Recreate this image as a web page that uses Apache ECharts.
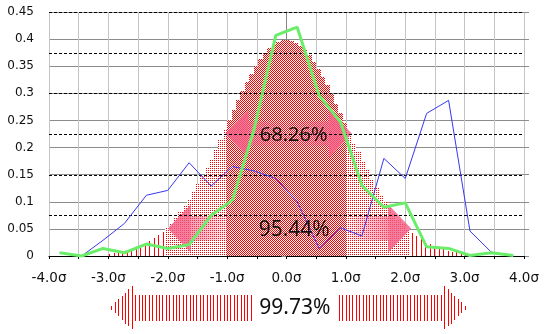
<!DOCTYPE html>
<html><head><meta charset="utf-8">
<script src="https://cdn.jsdelivr.net/npm/echarts@6/dist/echarts.min.js"></script>
<style>html,body{margin:0;padding:0;background:#fff}#c{width:553px;height:334px}#dbg{position:absolute;left:60px;top:20px;font:10px monospace;color:#00f;max-width:400px}</style>
</head><body><div id="c"></div><div id="dbg"></div>
<script>
// ---------- data ----------
const binWidth = 0.075;
const densityX = [-2.9875,-2.9125,-2.8375,-2.7625,-2.6875,-2.6125,-2.5375,-2.4625,-2.3875,-2.3125,
  -2.2375,-2.1625,-2.0875,-2.0125,-1.9375,-1.8625,-1.7875,-1.7125,-1.6375,-1.5625,
  -1.4875,-1.4125,-1.3375,-1.2625,-1.1875,-1.1125,-1.0375,-0.9625,-0.8875,-0.8125,
  -0.7375,-0.6625,-0.5875,-0.5125,-0.4375,-0.3625,-0.2875,-0.2125,-0.1375,-0.0625,
  0.0125,0.0875,0.1625,0.2375,0.3125,0.3875,0.4625,0.5375,0.6125,0.6875,
  0.7625,0.8375,0.9125,0.9875,1.0625,1.1375,1.2125,1.2875,1.3625,1.4375,
  1.5125,1.5875,1.6625,1.7375,1.8125,1.8875,1.9625,2.0375,2.1125,2.1875,
  2.2625,2.3375,2.4125,2.4875,2.5625,2.6375,2.7125,2.7875,2.8625,2.9375,3.0125];
const density = [0.0046,0.0057,0.0071,0.0088,0.0108,0.0131,0.0159,0.0192,0.0231,0.0275,
  0.0326,0.0385,0.0451,0.0527,0.0611,0.0704,0.0807,0.0921,0.1044,0.1177,
  0.1320,0.1471,0.1631,0.1798,0.1971,0.2149,0.2329,0.2510,0.2691,0.2868,
  0.3040,0.3203,0.3357,0.3498,0.3625,0.3736,0.3828,0.3900,0.3952,0.3982,
  0.3989,0.3974,0.3937,0.3878,0.3799,0.3701,0.3585,0.3453,0.3307,0.3150,
  0.2983,0.2809,0.2631,0.2450,0.2269,0.2089,0.1913,0.1742,0.1577,0.1420,
  0.1271,0.1132,0.1002,0.0882,0.0772,0.0672,0.0582,0.0501,0.0428,0.0365,
  0.0309,0.0260,0.0217,0.0181,0.0150,0.0123,0.0101,0.0082,0.0066,0.0053,0.0043];
const sampleX = [-3.82,-3.45,-3.09,-2.73,-2.36,-2.00,-1.64,-1.27,-0.91,-0.55,-0.18,
  0.18,0.55,0.91,1.27,1.64,2.00,2.36,2.73,3.09,3.45,3.82];
const blueVals = [0.006,0,0.029,0.060,0.112,0.121,0.172,0.129,0.165,0.157,0.143,
  0.100,0.014,0.052,0.037,0.180,0.143,0.263,0.287,0.046,0.007,0];
const greenVals = [0.006,0,0.014,0.006,0.022,0.014,0.021,0.075,0.103,0.232,0.407,
  0.422,0.296,0.247,0.130,0.090,0.098,0.017,0.014,0.001,0.006,0.001];
const bandLabels = ['68.26%','95.44%','99.73%'];
const bandFrom = [-1.03,-2.0,-2.95];
const bandTo = [1.10,2.10,3.0];
const bandLevel = [0.2257,0.0505,-0.0955];
const labelX = [0.12,0.13,0.14];
const labelLevel = [0.2235,0.0487,-0.0955];
const dashLevels = [0.075,0.15,0.225,0.3,0.375,0.45];

// ---------- styles ----------
function makePattern(w, h, dots) {
  const c = document.createElement('canvas');
  c.width = w; c.height = h;
  const g = c.getContext('2d');
  g.fillStyle = '#ffffff'; g.fillRect(0, 0, w, h);
  g.fillStyle = '#ff0000';
  dots.forEach(d => g.fillRect(d[0], d[1], 1, 1));
  return { image: c, repeat: 'repeat' };
}
const densePat = makePattern(2, 2, [[0,0],[1,1]]);
const sparsePat = makePattern(2, 2, [[0,0]]);
const PINK = '243,92,132';
const labelFont = [20, 21, 21];
function grad(a0, a1) {
  return {type: 'linear', x: 0, y: 0, x2: 1, y2: 0, colorStops: [
    {offset: 0, color: 'rgba(' + PINK + ',' + a0 + ')'}, {offset: 1, color: 'rgba(' + PINK + ',' + a1 + ')'}]};
}

const chart = echarts.init(document.getElementById('c'), null, {renderer: 'canvas'});
chart.setOption({
  animation: false,
  grid: {left: 49, right: 29, top: 12, bottom: 78},
  xAxis: {
    type: 'value', min: -4, max: 4, interval: 0.5,
    axisLine: {onZero: true, lineStyle: {color: '#000', width: 1}},
    axisTick: {show: true, length: 3, lineStyle: {color: '#000'}},
    axisLabel: {
      margin: 15, color: '#111', fontFamily: 'DejaVu Sans', fontSize: 13.5,
      formatter: v => Math.abs(v - Math.round(v)) < 1e-9 ? v.toFixed(1) + 'σ' : ''
    },
    splitLine: {show: true, lineStyle: {color: '#c4c4c4', width: 1}}
  },
  yAxis: [{
    type: 'value', min: 0, max: 0.45, interval: 0.05,
    axisLine: {show: true, lineStyle: {color: '#868686'}},
    axisTick: {show: true, length: 5, lineStyle: {color: '#868686'}},
    axisLabel: {margin: 15, color: '#111', fontFamily: 'DejaVu Sans', fontSize: 12},
    splitLine: {show: true, lineStyle: {color: '#8c8c8c', width: 1}}
  }, {
    type: 'value', min: 0, max: 0.45, interval: 0.05, position: 'right',
    axisLine: {show: false},
    axisTick: {show: true, length: 5, lineStyle: {color: '#8c8c8c'}},
    axisLabel: {show: false}, splitLine: {show: false}
  }],
  series: [
    {
      type: 'custom', name: 'density', z: 2,
      data: densityX.map((x, i) => [x, density[i]]),
      encode: {x: 0, y: 1},
      renderItem(params, api) {
        const x = api.value(0), v = api.value(1);
        const zeroY = Math.round(api.coord([x, 0])[1]);
        const topY = Math.round(api.coord([x, v])[1]);
        const a = Math.abs(x);
        if (a >= 2.05) {
          const cx = Math.round(api.coord([x, 0])[0]);
          return {type: 'rect', shape: {x: cx, y: topY, width: 1, height: zeroY - topY}, style: {fill: '#ff0000'}};
        }
        const x0 = Math.round(api.coord([x - binWidth / 2, 0])[0]);
        const x1 = Math.round(api.coord([x + binWidth / 2, 0])[0]);
        return {type: 'rect', shape: {x: x0, y: topY, width: x1 - x0, height: zeroY - topY},
          style: {fill: a < 1 ? densePat : sparsePat}};
      }
    },
    {
      type: 'custom', name: 'arrows', z: 10, zlevel: 1, clip: false,
      data: [0, 1].map(i => [bandFrom[i], bandLevel[i], bandTo[i]]),
      encode: {x: [0, 2], y: 1},
      renderItem(params, api) {
        const lv = api.value(1);
        const L = api.coord([api.value(0), lv]), R = api.coord([api.value(2), lv]);
        const cy = L[1], hl = 23, hh = 24, sh = 12, fade = 45;
        const head = 'rgba(' + PINK + ',0.8)';
        return {type: 'group', children: [
          {type: 'polygon', shape: {points: [[L[0], cy], [L[0] + hl, cy - hh], [L[0] + hl, cy + hh]]}, style: {fill: head}},
          {type: 'polygon', shape: {points: [[R[0], cy], [R[0] - hl, cy - hh], [R[0] - hl, cy + hh]]}, style: {fill: head}},
          {type: 'rect', shape: {x: L[0] + hl, y: cy - sh, width: fade, height: 2 * sh}, style: {fill: grad(0.6, 0)}},
          {type: 'rect', shape: {x: R[0] - hl - fade, y: cy - sh, width: fade, height: 2 * sh}, style: {fill: grad(0, 0.6)}}
        ]};
      }
    },
    {
      type: 'custom', name: 'dashes', z: 11, zlevel: 1,
      data: dashLevels.map(v => [0, v]),
      encode: {x: 0, y: 1},
      renderItem(params, api) {
        const v = api.value(1);
        const y = Math.round(api.coord([0, v])[1]) + 0.5;
        const cs = params.coordSys;
        return {type: 'line', shape: {x1: cs.x, y1: y, x2: cs.x + cs.width, y2: y},
          style: {stroke: '#000', lineWidth: 1, lineDash: [3, 2]}};
      }
    },
    {
      type: 'line', name: 'blue', z: 12, zlevel: 1, symbol: 'none',
      data: sampleX.map((x, i) => [x, blueVals[i]]),
      lineStyle: {color: '#3737f0', width: 1}
    },
    {
      type: 'line', name: 'green', z: 13, zlevel: 1, symbol: 'none',
      data: sampleX.map((x, i) => [x, greenVals[i]]),
      lineStyle: {color: '#6aee6a', width: 3}
    },
    {
      type: 'custom', name: 'wide', z: 3, clip: false,
      data: [[bandFrom[2], bandLevel[2], bandTo[2], labelX[2]]],
      encode: {x: [0, 2], y: 1},
      renderItem(params, api) {
        const lv = api.value(1);
        const L = api.coord([api.value(0), lv]), R = api.coord([api.value(2), lv]);
        const C = api.coord([api.value(3), lv]);
        const cy = L[1], HL = 20, HH = 21.5, SH = 13, STEP = 3.4, GAP = 42;
        const halfAt = d => d <= HL + 0.5 ? Math.min(HH, 2 + (HH - 2) * d / HL) : SH;
        const kids = [];
        const bar = (x, h) => ({type: 'rect', shape: {x: Math.round(x), y: Math.round(cy - h), width: 1, height: Math.round(2 * h)}, style: {fill: '#ff0000'}});
        for (let x = L[0]; x < C[0] - GAP; x += STEP) kids.push(bar(x, halfAt(x - L[0])));
        for (let x = R[0]; x > C[0] + GAP; x -= STEP) kids.push(bar(x, halfAt(R[0] - x)));
        return {type: 'group', children: kids};
      }
    },
    {
      type: 'custom', name: 'labels', z: 14, zlevel: 1, clip: false,
      data: [0, 1, 2].map(i => [labelX[i], labelLevel[i]]),
      encode: {x: 0, y: 1},
      renderItem(params, api) {
        const p = api.coord([api.value(0), api.value(1)]);
        const fs = labelFont[params.dataIndex];
        return {type: 'text', x: p[0], y: p[1], style: {
          text: bandLabels[params.dataIndex], fill: '#111',
          font: fs + 'px "Noto Sans"', align: 'center', verticalAlign: 'middle',
          textAlign: 'center', textVerticalAlign: 'middle'}};
      }
    }
  ]
});
</script></body></html>
